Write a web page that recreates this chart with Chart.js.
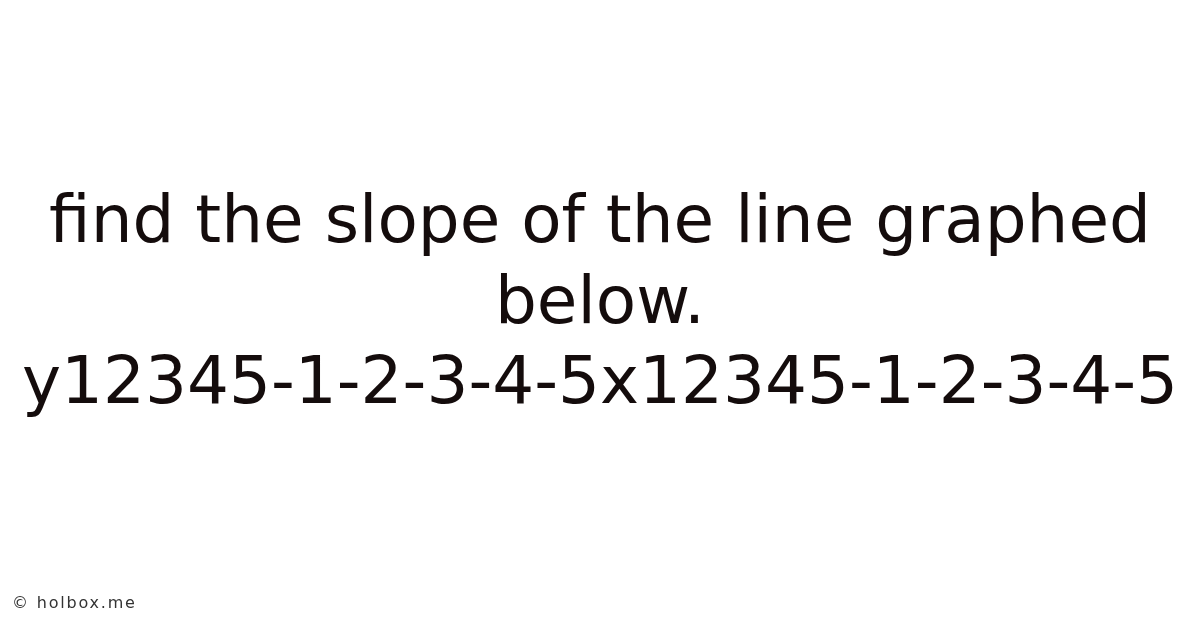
<!DOCTYPE html>
<html>
<head>
<meta charset="utf-8">
<script src="https://cdn.jsdelivr.net/npm/chart.js@4"></script>
<style>
  html, body { margin: 0; padding: 0; background: #fff; }
  #wrap { position: relative; width: 1200px; height: 628px; }
  #mark {
    position: absolute; left: 12px; top: 593px;
    font: 16px "DejaVu Sans", sans-serif; color: #333; letter-spacing: 1.8px;
  }
</style>
</head>
<body>
<div id="wrap">
  <canvas id="card" width="1200" height="628"></canvas>
  <div id="mark">© holbox.me</div>
</div>
<script>
// question text and the flattened tick labels from the graph
const questionLines = ['find the slope of the line graphed', 'below.'];
const yAxisName = 'y';
const yTicks = ['1', '2', '3', '4', '5', '-1', '-2', '-3', '-4', '-5'];
const xAxisName = 'x';
const xTicks = ['1', '2', '3', '4', '5', '-1', '-2', '-3', '-4', '-5'];

const tickLine = yAxisName + yTicks.join('') + xAxisName + xTicks.join('');

const ctx = document.getElementById('card').getContext('2d');

new Chart(ctx, {
    type: 'line',
    data: { labels: [], datasets: [] },
    options: {
        responsive: false,
        animation: false,
        events: [],
        layout: { padding: 0 },
        scales: {
            x: { display: false },
            y: { display: false },
        },
        plugins: {
            legend: { display: false },
            tooltip: { enabled: false },
            title: {
                display: true,
                text: questionLines.concat([tickLine]),
                color: '#140c0c',
                font: { family: 'DejaVu Sans', size: 66, weight: 'normal', lineHeight: 1.22 },
                padding: { top: 185, bottom: 0 },
            },
        },
    },
});
</script>
</body>
</html>
